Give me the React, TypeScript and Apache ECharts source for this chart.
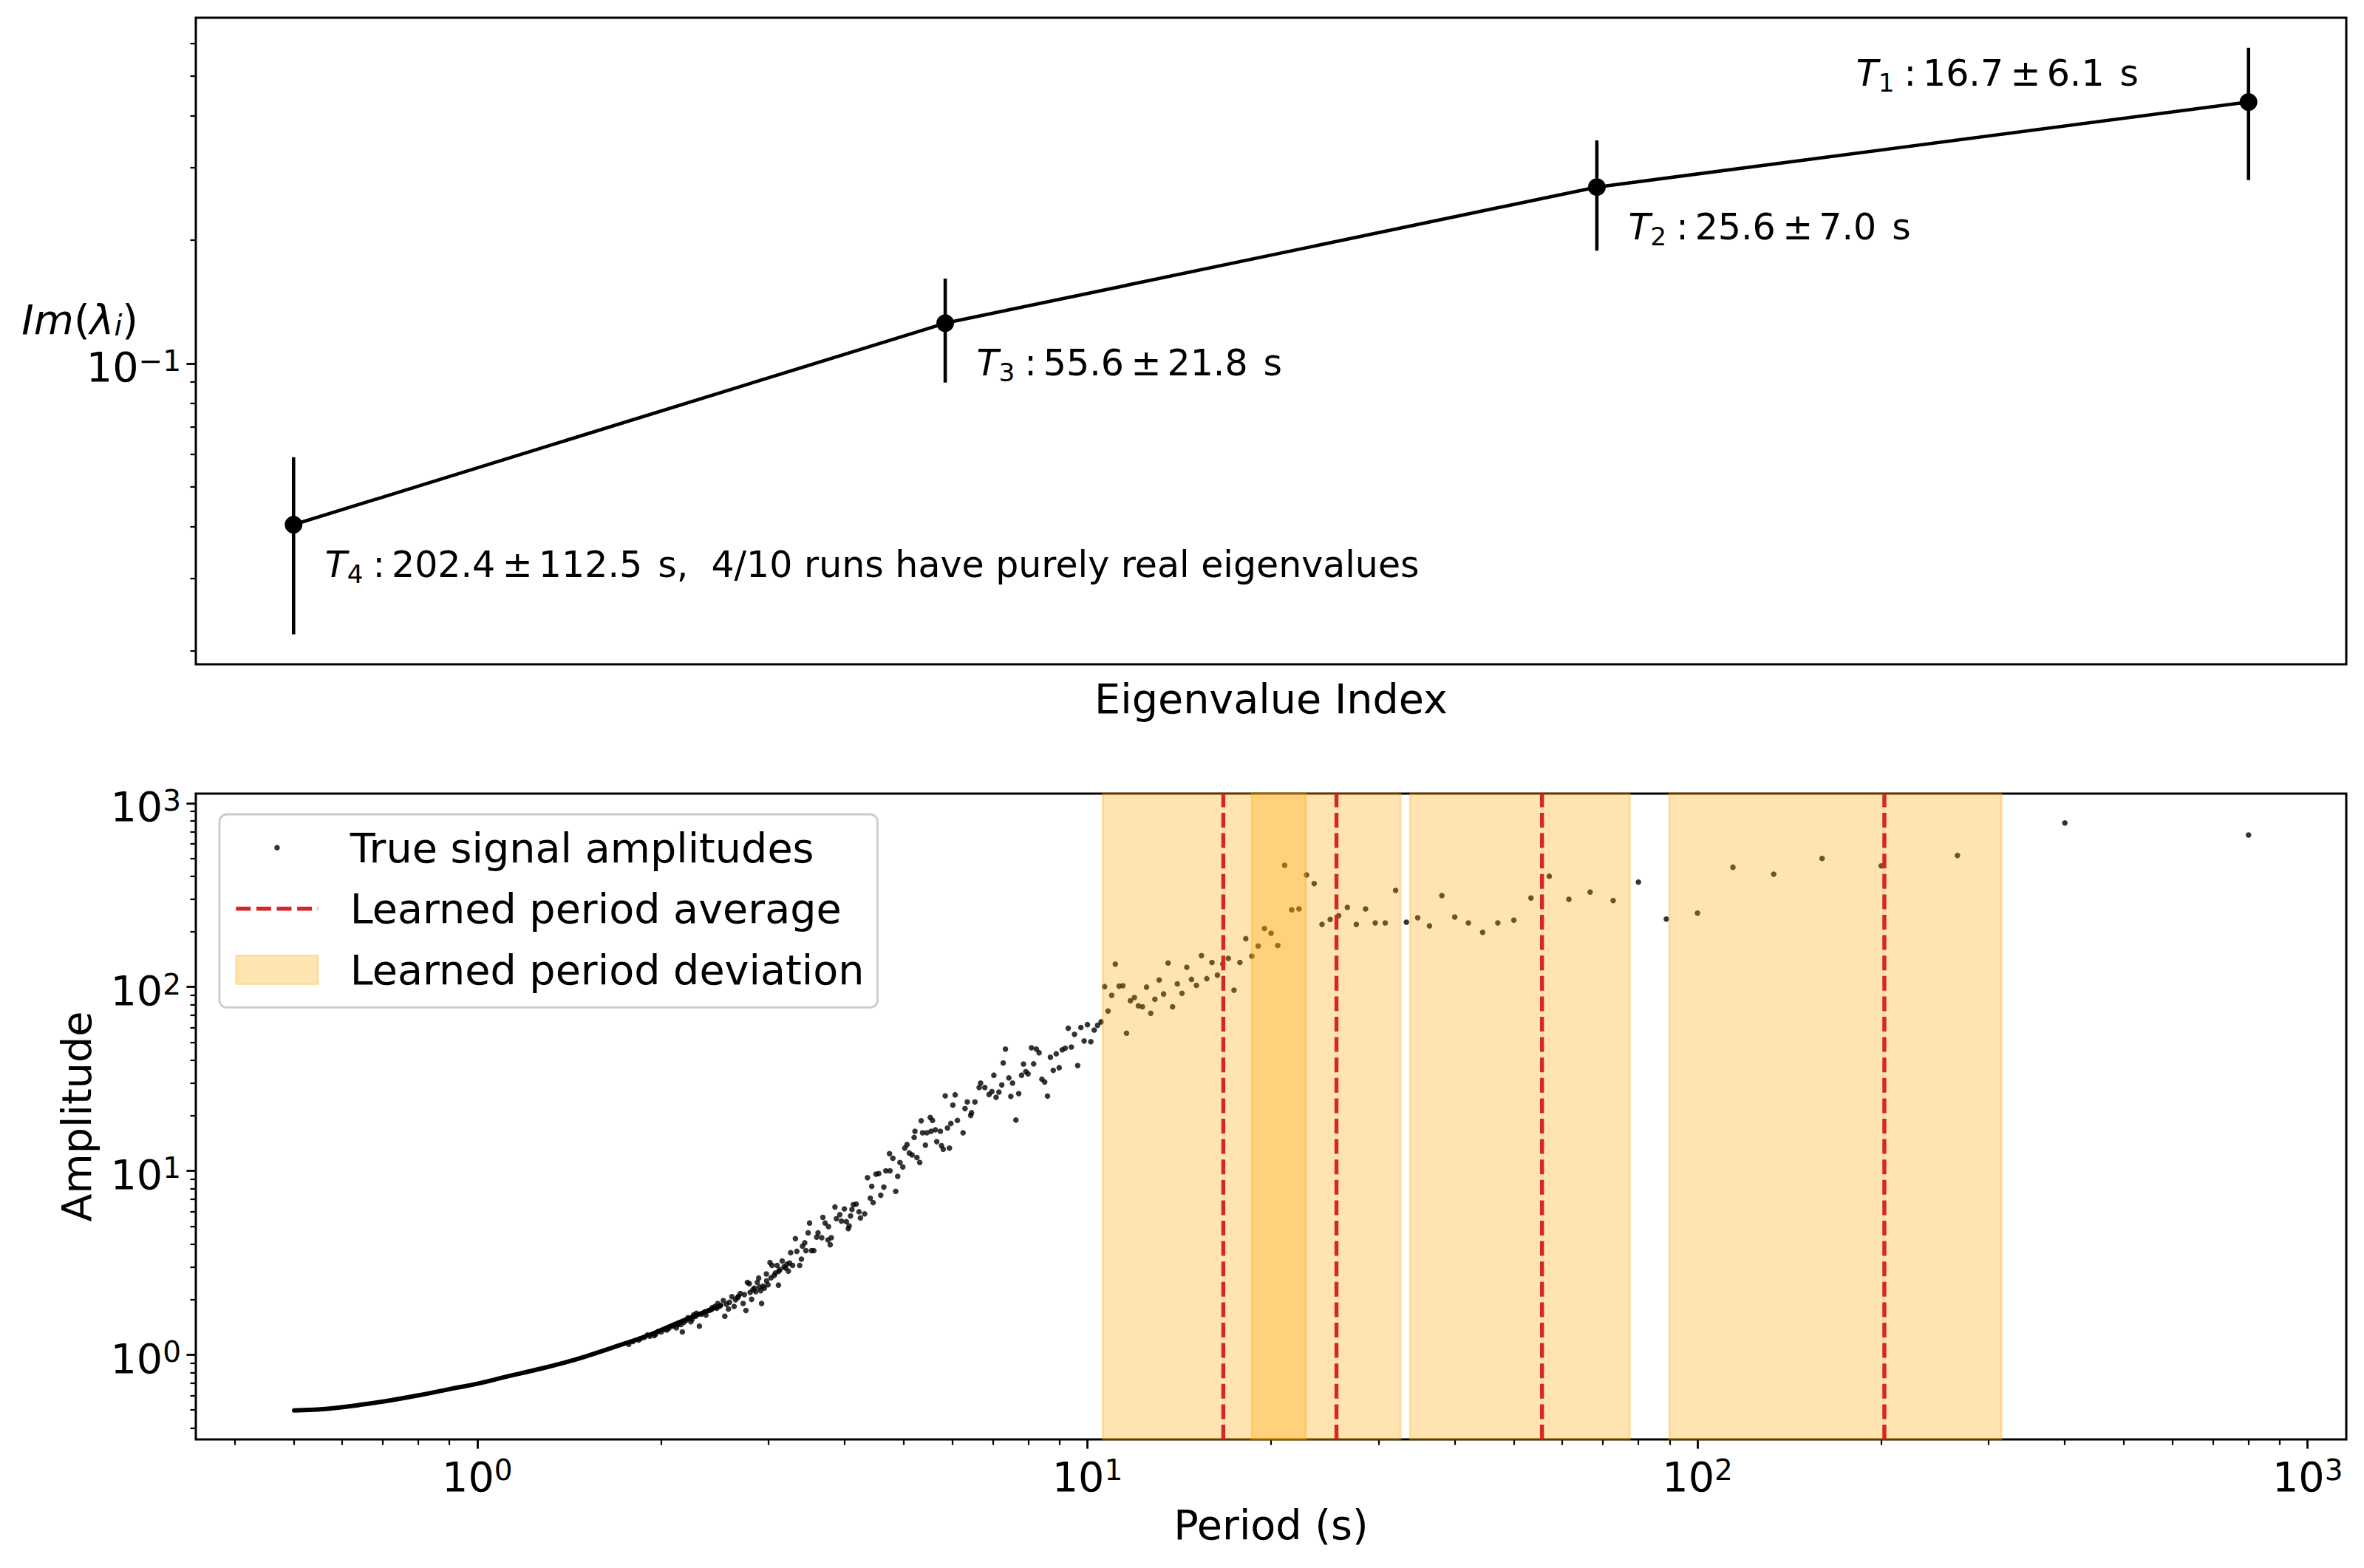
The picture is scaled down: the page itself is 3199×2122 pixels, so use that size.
import React, { useEffect, useRef } from 'react';
import * as echarts from 'echarts';

const FONT = 'DejaVu Sans';
const BLACK = '#000000';
const RED = '#d62728';
const SPAN_FILL = 'rgba(255,165,0,0.3)';

// ---------------- top panel ----------------
const eigIndex = [0, 1, 2, 3];
const imMean = [0.0405, 0.1253, 0.2686, 0.4327];
const imErr = [0.0186, 0.0355, 0.0805, 0.1535];
const periodLabelNo = [4, 3, 2, 1];
const periodMean = [202.4, 55.6, 25.6, 16.7];
const periodStd = [112.5, 21.8, 7.0, 6.1];
const realRunsNote = '4/10 runs have purely real eigenvalues';

const topXRange = [-0.15, 3.15];
const topYRange = [0.01852, 0.694];
const topYMajor = [0.1];
const topYMinor = [0.02, 0.03, 0.04, 0.05, 0.06, 0.07, 0.08, 0.09, 0.2, 0.3, 0.4, 0.5, 0.6];

// ---------------- bottom panel ----------------
const botXRange = [0.34567, 1156.9];
const botYRange = [0.346, 1126.4];
const logMajor = [1, 10, 100, 1000];
const logMinor = [
  0.4, 0.5, 0.6, 0.7, 0.8, 0.9, 2, 3, 4, 5, 6, 7, 8, 9,
  20, 30, 40, 50, 60, 70, 80, 90, 200, 300, 400, 500, 600, 700, 800, 900,
];

// dense, smooth part of the true signal (period, amplitude)
const denseCurve = [
  [0.501, 0.498], [0.54, 0.502], [0.588, 0.514], [0.654, 0.538], [0.728, 0.568],
  [0.81, 0.605], [0.901, 0.65], [1.003, 0.697], [1.115, 0.759], [1.241, 0.824],
  [1.381, 0.9], [1.536, 1.0], [1.709, 1.124], [1.901, 1.269], [2.116, 1.477],
  [2.353, 1.702], [2.509, 1.859],
];

// individual true signal amplitudes (period, amplitude)
const signalPoints = [
  [1.85, 1.22], [1.9, 1.28], [1.95, 1.27], [1.98, 1.34], [2.02, 1.37], [2.06, 1.39],
  [2.1, 1.44], [2.12, 1.4], [2.18, 1.5], [2.2, 1.54], [2.25, 1.56], [2.28, 1.62],
  [2.33, 1.66], [2.37, 1.64], [2.42, 1.76], [2.47, 1.79], [2.5, 1.84], [2.56, 1.88],
  [2.59, 1.93], [2.65, 1.99], [2.68, 2.08], [2.74, 2.12], [2.8, 2.18], [2.83, 2.26],
  [2.86, 2.2], [2.9, 2.33], [2.94, 2.36], [2.98, 2.52], [3.03, 2.62], [3.08, 2.78],
  [3.12, 2.84], [3.2, 2.96], [3.25, 3.15],
  [1.771, 1.14], [1.799, 1.18], [1.838, 1.2], [1.877, 1.24], [1.918, 1.26], [1.959, 1.29],
  [2.002, 1.33], [2.044, 1.36], [2.089, 1.43], [2.134, 1.46], [2.157, 1.46], [2.168, 1.33],
  [2.215, 1.59], [2.239, 1.51], [2.263, 1.65], [2.287, 1.68], [2.312, 1.43], [2.362, 1.71],
  [2.4, 1.74], [2.426, 1.8], [2.452, 1.83], [2.478, 1.9], [2.531, 1.97], [2.545, 1.62],
  [2.58, 1.77], [2.614, 2.07], [2.636, 1.83], [2.67, 2.04], [2.698, 2.15], [2.727, 1.9],
  [2.756, 1.74], [2.771, 2.47], [2.792, 2.43], [2.816, 2.0], [2.846, 2.3], [2.877, 2.47],
  [2.892, 2.61], [2.914, 2.23], [2.924, 1.9], [2.955, 2.3], [2.977, 2.75], [2.996, 2.4],
  [3.018, 3.17], [3.041, 3.06], [3.067, 2.7], [3.1, 3.06], [3.116, 2.39], [3.133, 2.9],
  [3.16, 3.23], [3.183, 3.01], [3.218, 3.11], [3.235, 2.85], [3.263, 3.59], [3.287, 3.06],
  [3.322, 4.28], [3.34, 3.65], [3.376, 3.06], [3.398, 3.31], [3.412, 3.89], [3.441, 4.06],
  [3.456, 3.68], [3.485, 4.6], [3.504, 5.2], [3.53, 3.68], [3.561, 3.68], [3.599, 4.36],
  [3.618, 4.6], [3.669, 4.33], [3.685, 5.58], [3.716, 5.2], [3.756, 4.21], [3.764, 4.97],
  [3.788, 3.96], [3.804, 4.33], [3.857, 6.36], [3.878, 5.49], [3.928, 5.78], [3.953, 5.33],
  [3.996, 6.21], [4.026, 5.29], [4.056, 4.85], [4.069, 5.02], [4.09, 5.68], [4.112, 6.17],
  [4.134, 6.55], [4.178, 6.59], [4.223, 5.99], [4.246, 5.54], [4.314, 5.83], [4.36, 9.17],
  [4.407, 7.1], [4.431, 8.24], [4.454, 6.71], [4.502, 9.59], [4.55, 9.66], [4.584, 7.36],
  [4.638, 8.15], [4.673, 10.0], [4.738, 12.4], [4.748, 10.0], [4.799, 11.7], [4.851, 7.73],
  [4.887, 9.33], [4.929, 11.1], [4.982, 10.5], [5.019, 13.3], [5.062, 13.9], [5.106, 12.5],
  [5.16, 12.2], [5.2, 15.2], [5.216, 16.4], [5.255, 11.8], [5.311, 11.1], [5.34, 18.7],
  [5.368, 16.1], [5.426, 13.8], [5.455, 16.1], [5.526, 19.5], [5.543, 16.4], [5.573, 18.8],
  [5.633, 16.7], [5.663, 14.4], [5.741, 16.4], [5.766, 13.7], [5.803, 13.1], [5.847, 25.6],
  [5.897, 17.1], [5.941, 13.3], [5.973, 18.1], [6.018, 22.8], [6.07, 25.9], [6.122, 18.8],
  [6.254, 16.1], [6.301, 21.8], [6.355, 23.7], [6.437, 20.0], [6.458, 20.7], [6.541, 23.7],
  [6.646, 28.4], [6.682, 30.0], [6.79, 28.4], [6.899, 26.0], [6.973, 27.0], [7.025, 33.1],
  [7.085, 25.1], [7.161, 26.8], [7.238, 29.3], [7.277, 38.6], [7.339, 45.9], [7.434, 32.0],
  [7.49, 25.4], [7.538, 30.0], [7.635, 18.9], [7.717, 26.3], [7.799, 33.1], [7.857, 38.1],
  [7.925, 34.6], [7.993, 33.7], [8.096, 46.7],
  [8.163, 38.2], [8.247, 45.9], [8.333, 43.9], [8.421, 31.5], [8.511, 30.4], [8.602, 25.5],
  [8.696, 41.5], [8.791, 35.2], [8.889, 43.3], [8.989, 36.4], [9.091, 45.5], [9.195, 46.5],
  [9.302, 59.6], [9.412, 47.1], [9.524, 55.3], [9.639, 37.4], [9.756, 60.2], [9.877, 50.8],
  [10.0, 62.4], [10.13, 50.4], [10.26, 58.3], [10.39, 61.9], [10.53, 64.6], [10.67, 100.5],
  [10.81, 74], [10.96, 90], [11.11, 133], [11.27, 101], [11.43, 101.6], [11.59, 56],
  [11.76, 84.2], [11.94, 87.6], [12.12, 79], [12.31, 78], [12.5, 99.8], [12.7, 72],
  [12.9, 85.7], [13.11, 109], [13.33, 91.6], [13.56, 135], [13.79, 78], [14.04, 104],
  [14.29, 92.3], [14.55, 128], [14.81, 110], [15.09, 102], [15.38, 148], [15.69, 111],
  [16.0, 136], [16.33, 116], [16.67, 133], [17.02, 143], [17.39, 96], [17.78, 136],
  [18.18, 183], [18.6, 147], [19.05, 167], [19.51, 208], [20.0, 196], [20.51, 168],
  [21.05, 459], [21.62, 263], [22.22, 266], [22.86, 407], [23.53, 365], [24.24, 219],
  [25.0, 233], [25.81, 244], [26.67, 271], [27.59, 219], [28.57, 266], [29.63, 223],
  [30.77, 223], [32.0, 335], [33.33, 225], [34.78, 238], [36.36, 215], [38.1, 314],
  [40.0, 240], [42.11, 223], [44.44, 198], [47.06, 223], [50.0, 231], [53.33, 305],
  [57.14, 400], [61.54, 300], [66.67, 328], [72.73, 295], [80.0, 372], [88.89, 234],
  [100.0, 252], [114.3, 448], [133.3, 411], [160.0, 500], [200.0, 456], [266.7, 519],
  [400.0, 780], [800.0, 671],
];

const LEGEND_NAMES = ['True signal amplitudes', 'Learned period average', 'Learned period deviation'];
const DOT_ICON = 'path://M0,0M111,39M52,19.5a3.65,3.65 0 1,0 7.3,0a3.65,3.65 0 1,0 -7.3,0Z';
const DASH_ICON =
  'path://M0,0M111,39M0,16.8h20v5.4h-20zM27.6,16.8h20v5.4h-20zM55.2,16.8h20v5.4h-20zM82.8,16.8h20v5.4h-20zM110.4,16.8h0.6v5.4h-0.6z';

const tickRich = {
  b: { fontFamily: FONT, fontSize: 55.6, lineHeight: 56, color: BLACK },
  s: { fontFamily: FONT, fontSize: 39, lineHeight: 22, verticalAlign: 'top', color: BLACK },
};
const powLabel = (v: number) => {
  const e = Math.round(Math.log10(v));
  return `{b|10}{s|${e < 0 ? '\u2212' + -e : e}}`;
};

// annotation text (mathtext-like layout with explicit gaps)
const ANN_SIZE = 49;
const annRich = {
  it: { fontFamily: FONT, fontSize: ANN_SIZE, fontStyle: 'italic', lineHeight: 60, color: BLACK },
  sub: { fontFamily: FONT, fontSize: 34.3, lineHeight: 35.8, verticalAlign: 'bottom', color: BLACK },
  colon: { fontFamily: FONT, fontSize: ANN_SIZE, lineHeight: 60, padding: [0, 9, 0, 13], color: BLACK },
  n: { fontFamily: FONT, fontSize: ANN_SIZE, lineHeight: 60, color: BLACK },
  pm: { fontFamily: FONT, fontSize: ANN_SIZE, lineHeight: 60, padding: [0, 8, 0, 9.5], color: BLACK },
  unit: { fontFamily: FONT, fontSize: ANN_SIZE, lineHeight: 60, padding: [0, 0, 0, 21], color: BLACK },
};
const annText = (i: number) => {
  const tail = periodLabelNo[i] === 4 ? `s,\u00a0\u00a0${realRunsNote}` : 's';
  return (
    `{it|T}{sub|${periodLabelNo[i]}}{colon|:}{n|${periodMean[i].toFixed(1)}}` +
    `{pm|\u00b1}{n|${periodStd[i].toFixed(1)}}{unit|${tail}}`
  );
};
const annOffsets = [[54.5, 36], [54.5, 36], [54.5, 36], [-519, -57]];

const nameRich = {
  it: { fontFamily: FONT, fontSize: 55.6, fontStyle: 'italic', lineHeight: 56, color: BLACK },
  p: { fontFamily: FONT, fontSize: 55.6, lineHeight: 56, color: BLACK },
  sub: { fontFamily: FONT, fontSize: 39, fontStyle: 'italic', lineHeight: 27, verticalAlign: 'bottom', color: BLACK },
};

const nameStyle = { fontFamily: FONT, fontSize: 55.6, color: BLACK };

function majorAxisCommon(ticks: number[]) {
  return {
    axisLine: { show: false, onZero: false },
    splitLine: { show: false },
    nameMoveOverlap: false,
    axisTick: { show: true, length: 12.6, lineStyle: { color: BLACK, width: 2.8 }, customValues: ticks },
  };
}
function minorAxisCommon(ticks: number[]) {
  return {
    axisLine: { show: false, onZero: false },
    splitLine: { show: false },
    axisTick: { show: true, length: 7.5, lineStyle: { color: BLACK, width: 2.2 }, customValues: ticks },
    axisLabel: { show: false },
  };
}

export default function App() {
  const ref = useRef<HTMLDivElement>(null);
  useEffect(() => {
    if (!ref.current) return;
    const chart = echarts.init(ref.current, undefined, { renderer: 'svg' });
    const gridCommon = {
      left: 265, width: 2910, show: true, borderColor: BLACK, borderWidth: 3,
      backgroundColor: 'transparent', containLabel: false, outerBoundsMode: 'none',
    };
    const option: any = {
      animation: false,
      textStyle: { fontFamily: FONT, color: BLACK },
      grid: [
        { ...gridCommon, top: 24, height: 875 },
        { ...gridCommon, top: 1074, height: 874 },
      ],
      xAxis: [
        {
          gridIndex: 0, type: 'value', position: 'bottom', min: topXRange[0], max: topXRange[1],
          axisLine: { show: false, onZero: false }, axisTick: { show: false }, axisLabel: { show: false }, splitLine: { show: false },
          name: 'Eigenvalue Index', nameLocation: 'middle', nameGap: 18, nameTextStyle: nameStyle, nameMoveOverlap: false,
        },
        {
          gridIndex: 1, type: 'log', logBase: 10, position: 'bottom', min: botXRange[0], max: botXRange[1],
          ...majorAxisCommon(logMajor),
          axisLabel: { show: true, customValues: logMajor, formatter: powLabel, rich: tickRich, margin: 22 },
          name: 'Period (s)', nameLocation: 'middle', nameGap: 87, nameTextStyle: nameStyle,
        },
        {
          gridIndex: 1, type: 'log', logBase: 10, position: 'bottom', min: botXRange[0], max: botXRange[1],
          ...minorAxisCommon(logMinor),
        },
      ],
      yAxis: [
        {
          gridIndex: 0, type: 'log', logBase: 10, position: 'left', min: topYRange[0], max: topYRange[1],
          ...majorAxisCommon(topYMajor),
          axisLabel: { show: true, customValues: topYMajor, formatter: powLabel, rich: tickRich, margin: 20, padding: [10, 0, 0, 0] },
          name: '{it|Im}{p|(}{it|\u03bb}{sub|i}{p|)}', nameLocation: 'middle', nameRotate: 0, nameGap: 78,
          nameTextStyle: { ...nameStyle, rich: nameRich, padding: [0, 0, 59, 0] },
        },
        {
          gridIndex: 0, type: 'log', logBase: 10, position: 'left', min: topYRange[0], max: topYRange[1],
          ...minorAxisCommon(topYMinor),
        },
        {
          gridIndex: 1, type: 'log', logBase: 10, position: 'left', min: botYRange[0], max: botYRange[1],
          ...majorAxisCommon(logMajor),
          axisLabel: { show: true, customValues: logMajor, formatter: powLabel, rich: tickRich, margin: 20, padding: [10, 0, 0, 0] },
          name: 'Amplitude', nameLocation: 'middle', nameGap: 134, nameTextStyle: nameStyle,
        },
        {
          gridIndex: 1, type: 'log', logBase: 10, position: 'left', min: botYRange[0], max: botYRange[1],
          ...minorAxisCommon(logMinor),
        },
      ],
      legend: {
        data: [
          { name: LEGEND_NAMES[0], icon: DOT_ICON },
          { name: LEGEND_NAMES[1], icon: DASH_ICON },
          { name: LEGEND_NAMES[2], icon: 'rect' },
        ],
        orient: 'vertical',
        left: 297,
        top: 1102,
        itemWidth: 111,
        itemHeight: 39,
        itemGap: 26.6,
        padding: [17.2, 18, 23, 21.3],
        backgroundColor: 'rgba(255,255,255,0.8)',
        borderColor: '#cccccc',
        borderWidth: 2.8,
        borderRadius: 10,
        selectedMode: false,
        textStyle: { fontFamily: FONT, fontSize: 55.6, color: BLACK, padding: [0, 0, 0, 38.5] },
      },
      series: [
        // ---- top panel ----
        {
          type: 'custom',
          name: 'Im error',
          xAxisIndex: 0,
          yAxisIndex: 0,
          z: 2,
          silent: true,
          data: eigIndex.map((x, i) => [x, imMean[i] - imErr[i], imMean[i] + imErr[i]]),
          encode: { x: 0, y: [1, 2] },
          renderItem: (params: any, api: any) => {
            const lo = api.coord([api.value(0), api.value(1)]);
            const hi = api.coord([api.value(0), api.value(2)]);
            return {
              type: 'line',
              shape: { x1: lo[0], y1: lo[1], x2: hi[0], y2: hi[1] },
              style: { stroke: BLACK, lineWidth: 4.6 },
            };
          },
        },
        {
          type: 'line',
          name: 'Im mean',
          xAxisIndex: 0,
          yAxisIndex: 0,
          z: 3,
          silent: true,
          symbol: 'circle',
          symbolSize: 24,
          showSymbol: true,
          itemStyle: { color: BLACK },
          lineStyle: { color: BLACK, width: 4.6 },
          data: eigIndex.map((x, i) => ({
            value: [x, imMean[i]],
            label: {
              show: true,
              position: annOffsets[i],
              align: 'left',
              verticalAlign: 'top',
              formatter: () => annText(i),
              rich: annRich,
            },
          })),
        },
        // ---- bottom panel ----
        {
          type: 'scatter',
          name: LEGEND_NAMES[0],
          xAxisIndex: 1,
          yAxisIndex: 2,
          z: 2,
          silent: true,
          symbol: 'circle',
          symbolSize: 7.5,
          itemStyle: { color: BLACK },
          data: signalPoints,
        },
        {
          type: 'line',
          name: LEGEND_NAMES[0],
          xAxisIndex: 1,
          yAxisIndex: 2,
          z: 2,
          silent: true,
          symbol: 'none',
          smooth: true,
          lineStyle: { color: BLACK, width: 6, cap: 'round' },
          itemStyle: { color: BLACK },
          data: denseCurve,
        },
        {
          type: 'custom',
          name: LEGEND_NAMES[2],
          xAxisIndex: 1,
          yAxisIndex: 2,
          z: 3,
          silent: true,
          itemStyle: { color: SPAN_FILL, borderColor: SPAN_FILL, borderWidth: 2.8 },
          data: periodMean.map((m, i) => [m - periodStd[i], m + periodStd[i], 1]),
          encode: { x: [0, 1], y: 2 },
          renderItem: (params: any, api: any) => {
            const cs = params.coordSys;
            const a = api.coord([api.value(0), 1])[0];
            const b = api.coord([api.value(1), 1])[0];
            return {
              type: 'rect',
              shape: { x: a, y: cs.y, width: b - a, height: cs.height },
              style: { fill: SPAN_FILL, stroke: SPAN_FILL, lineWidth: 2.8 },
            };
          },
        },
        {
          type: 'custom',
          name: LEGEND_NAMES[1],
          xAxisIndex: 1,
          yAxisIndex: 2,
          z: 4,
          silent: true,
          itemStyle: { color: RED },
          data: periodMean.map((m) => [m, 1]),
          encode: { x: 0, y: 1 },
          renderItem: (params: any, api: any) => {
            const cs = params.coordSys;
            const x = api.coord([api.value(0), 1])[0];
            return {
              type: 'line',
              shape: { x1: x, y1: cs.y + cs.height, x2: x, y2: cs.y },
              style: { stroke: RED, lineWidth: 5.4, lineDash: [20, 7.6] },
            };
          },
        },
      ],
    };
    chart.setOption(option);
    return () => chart.dispose();
  }, []);
  return <div ref={ref} style={{ position: 'absolute', left: 0, top: 0, width: 3199, height: 2122 }} />;
}
